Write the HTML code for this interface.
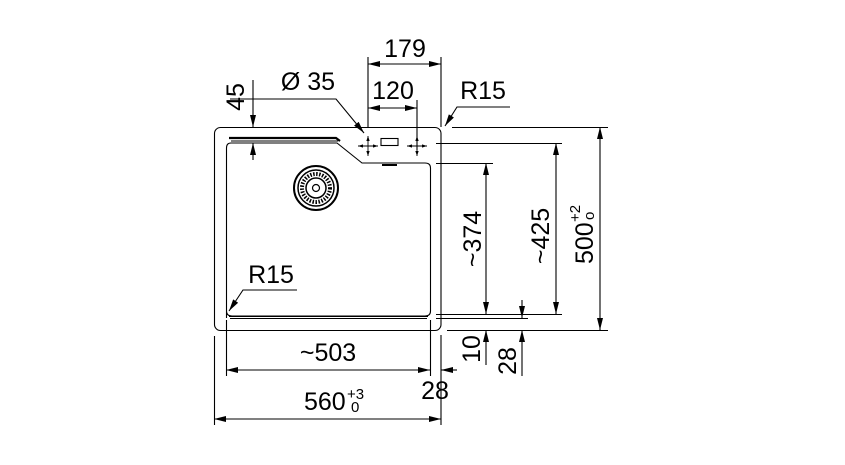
<!DOCTYPE html>
<html><head><style>html,body{margin:0;padding:0;background:#fff}svg{display:block}text{font-family:"Liberation Sans",sans-serif;fill:#000}</style></head>
<body>
<svg width="845" height="465" viewBox="0 0 845 465" xmlns="http://www.w3.org/2000/svg">
<defs>
<marker id="a" viewBox="0 0 12 6" refX="12" refY="3" markerWidth="12" markerHeight="6" markerUnits="userSpaceOnUse" orient="auto-start-reverse"><path d="M0,0L12,3L0,6z" fill="#000"/></marker>
<marker id="s" viewBox="0 0 6 4" refX="6" refY="2" markerWidth="5" markerHeight="4" markerUnits="userSpaceOnUse" orient="auto-start-reverse"><path d="M0,0L6,2L0,4z" fill="#000"/></marker>
</defs>
<g fill="none" stroke="#000" stroke-width="1.1">
<rect x="214.5" y="127.5" width="226.5" height="203" rx="6"/>
<path d="M226.5,318 L226.5,148 Q226.5,143 231,143 L337,143 L362,163 L425,163 Q430.5,163 430.5,168 L430.5,311 Q430.5,316 425,316 L232,316 Q226.5,316 226.5,311"/>
<path d="M229,138 L336,138 L340,141" stroke-width="2.2"/>
<path d="M231,141 L338,141"/>
<path d="M229,316.5 L428,316.5 M230,318.5 L427,318.5" stroke-width="1"/>
<path d="M382,165 L397,165" stroke-width="2"/>
<rect x="381" y="138.5" width="17" height="7"/>
<g stroke-width="0.9">
<path d="M358,146 L378,146" marker-start="url(#s)" marker-end="url(#s)"/>
<path d="M368,136 L368,156" marker-start="url(#s)" marker-end="url(#s)"/>
<path d="M407,146 L427,146" marker-start="url(#s)" marker-end="url(#s)"/>
<path d="M417,136 L417,156" marker-start="url(#s)" marker-end="url(#s)"/>
</g>
<circle cx="316" cy="188" r="22" stroke-width="2"/>
<circle cx="316" cy="188" r="18" stroke-width="1.5"/>
<circle cx="316" cy="188" r="14" stroke-width="4" stroke-dasharray="1.5 1.5"/>
<circle cx="316" cy="188" r="10" stroke-width="1.5"/>
<circle cx="316" cy="188" r="3.5" stroke-width="1.2"/>
<path d="M368,57 L368,127 M441,57 L441,127 M417,100 L417,150"/>
<path d="M368,64 L441,64" marker-start="url(#a)" marker-end="url(#a)"/>
<path d="M368,108 L417,108" marker-start="url(#a)" marker-end="url(#a)"/>
<path d="M230,99 L336,99 L364,133" marker-end="url(#a)"/>
<path d="M253,80 L253,127" marker-end="url(#a)"/>
<path d="M253,160 L253,143" marker-end="url(#a)"/>
<path d="M510,107 L457,107 L445,126" marker-end="url(#a)"/>
<path d="M452,127.5 L608,127.5 M436,143.5 L562,143.5 M436,163.5 L493,163.5 M436,314.5 L562,314.5 M436,318.5 L528,318.5 M447,330.5 L608,330.5"/>
<path d="M486,163 L486,314" marker-start="url(#a)" marker-end="url(#a)"/>
<path d="M556,143 L556,314" marker-start="url(#a)" marker-end="url(#a)"/>
<path d="M600,127 L600,330" marker-start="url(#a)" marker-end="url(#a)"/>
<path d="M486,365 L486,330" marker-end="url(#a)"/>
<path d="M522,300 L522,318" marker-end="url(#a)"/>
<path d="M522,376 L522,330" marker-end="url(#a)"/>
<path d="M226.5,320 L226.5,376 M430.5,320 L430.5,376 M441,335 L441,425 M214.5,336 L214.5,425"/>
<path d="M226,370 L430,370" marker-start="url(#a)" marker-end="url(#a)"/>
<path d="M457,370 L441,370" marker-end="url(#a)"/>
<path d="M214,419 L441,419" marker-start="url(#a)" marker-end="url(#a)"/>
<path d="M297,290 L243,290 L229,311" marker-end="url(#a)"/>
</g>
<g font-size="25">
<text x="405" y="57" text-anchor="middle">179</text>
<text x="393" y="99" text-anchor="middle">120</text>
<text x="308" y="90" text-anchor="middle">Ø 35</text>
<text x="483" y="99" text-anchor="middle">R15</text>
<text x="271" y="283" text-anchor="middle">R15</text>
<text transform="translate(244,97) rotate(-90)" text-anchor="middle">45</text>
<text transform="translate(481,239) rotate(-90)" text-anchor="middle">~374</text>
<text transform="translate(549,236) rotate(-90)" text-anchor="middle">~425</text>
<text transform="translate(593,264) rotate(-90)">500</text>
<text transform="translate(580,222) rotate(-90)" font-size="15">+2</text>
<text transform="translate(594,220) rotate(-90)" font-size="15">o</text>
<text transform="translate(480,349) rotate(-90)" text-anchor="middle">10</text>
<text transform="translate(516,361) rotate(-90)" text-anchor="middle">28</text>
<text x="328" y="361" text-anchor="middle">~503</text>
<text x="435" y="399" text-anchor="middle">28</text>
<text x="304" y="410">560</text>
<text x="347" y="399" font-size="15">+3</text>
<text x="351" y="412" font-size="15">0</text>
</g>
</svg>
</body></html>
